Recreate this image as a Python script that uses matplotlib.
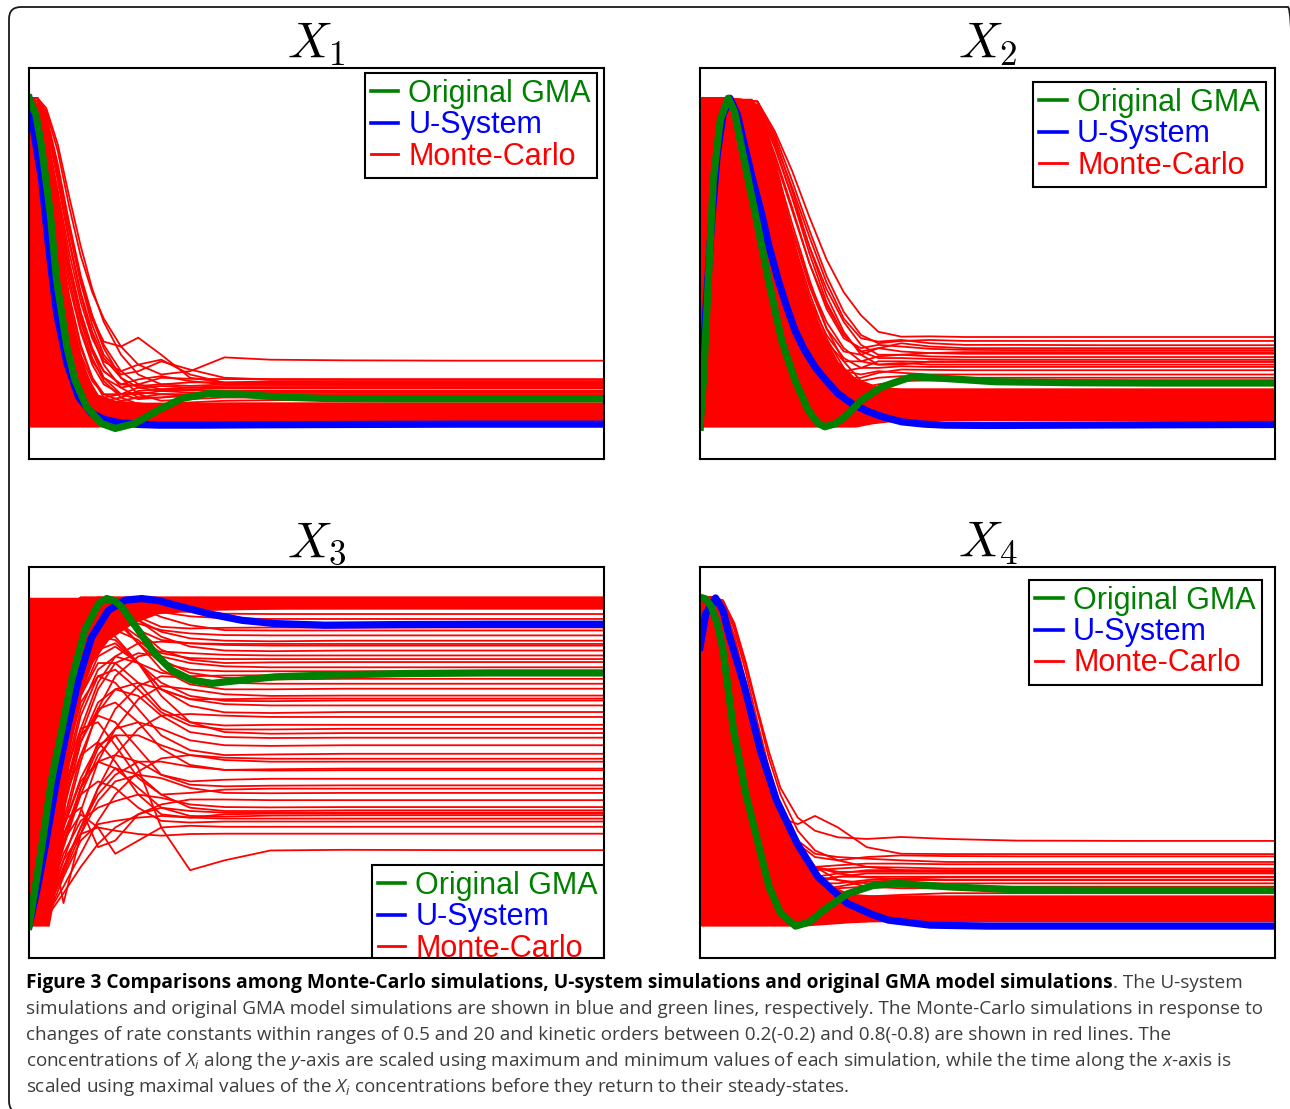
import matplotlib
matplotlib.use('Agg')
import matplotlib.pyplot as plt
from matplotlib.lines import Line2D
from matplotlib.patches import FancyBboxPatch
from matplotlib.transforms import IdentityTransform

plt.rcParams['mathtext.fontset'] = 'custom'
plt.rcParams['mathtext.rm'] = 'Open Sans'
plt.rcParams['mathtext.it'] = 'Open Sans:italic'
plt.rcParams['mathtext.bf'] = 'Open Sans:bold'

# ------------------------------------------------------------------ data
panel_titles = [r'$X_1$', r'$X_2$', r'$X_3$', r'$X_4$']
legend_labels = ['Original GMA', 'U-System', 'Monte-Carlo']

# ---- X1
x1_usys_t = [0, 0.01, 0.022, 0.034, 0.048, 0.066, 0.086, 0.109, 0.13, 0.155, 0.19, 0.225, 0.3, 0.4, 0.55, 0.75, 1.0]
x1_usys_y = [1.0, 0.88, 0.751, 0.548, 0.346, 0.194, 0.092, 0.042, 0.024, 0.014, 0.008, 0.006, 0.006, 0.007, 0.008, 0.009, 0.009]
x1_gma_t = [0, 0.012, 0.022, 0.037, 0.048, 0.066, 0.08, 0.1, 0.126, 0.15, 0.184, 0.225, 0.266, 0.312, 0.37, 0.428, 0.515, 0.65, 0.8, 1.0]
x1_gma_y = [1.0, 0.95, 0.852, 0.65, 0.447, 0.244, 0.143, 0.062, 0.011, -0.004, 0.011, 0.052, 0.087, 0.102, 0.1, 0.092, 0.087, 0.086, 0.086, 0.086]
x1_mass_t = [0, 0.02, 0.035, 0.05, 0.065, 0.08, 0.1, 0.12, 0.15, 0.2, 1.0]
x1_mass_lo = [0, 0, 0, 0, 0, 0, 0, 0, 0.005, 0.015, 0.015]
x1_mass_hi = [1.0, 0.98, 0.86, 0.66, 0.45, 0.29, 0.16, 0.1, 0.082, 0.076, 0.076]
x1_mc_t = [0, 0.015, 0.03, 0.05, 0.07, 0.09, 0.11, 0.13, 0.16, 0.19, 0.23, 0.28, 0.34, 0.42, 0.55, 0.75, 1.0]
x1_mc = [
    [1.0, 1.0, 0.96, 0.84, 0.67, 0.52, 0.41, 0.33, 0.245, 0.19, 0.16, 0.17, 0.212, 0.205, 0.203, 0.202, 0.202],
    [1.0, 1.0, 0.93, 0.78, 0.6, 0.44, 0.33, 0.26, 0.245, 0.272, 0.22, 0.15, 0.135, 0.14, 0.14, 0.14, 0.14],
    [1.0, 0.99, 0.9, 0.72, 0.53, 0.38, 0.27, 0.2, 0.17, 0.19, 0.205, 0.16, 0.135, 0.13, 0.128, 0.127, 0.127],
    [1.0, 0.97, 0.85, 0.64, 0.45, 0.3, 0.2, 0.15, 0.12, 0.13, 0.15, 0.147, 0.146, 0.146, 0.146, 0.146, 0.146],
    [1.0, 0.95, 0.8, 0.56, 0.36, 0.22, 0.14, 0.1, 0.1, 0.12, 0.125, 0.12, 0.12, 0.12, 0.121, 0.121, 0.121],
    [1.0, 0.93, 0.75, 0.5, 0.3, 0.18, 0.11, 0.08, 0.09, 0.11, 0.115, 0.112, 0.111, 0.111, 0.111, 0.111, 0.111],
    [1.0, 0.9, 0.7, 0.45, 0.26, 0.15, 0.1, 0.09, 0.1, 0.105, 0.1, 0.1, 0.1, 0.1, 0.1, 0.1, 0.1],
    [1.0, 0.98, 0.88, 0.68, 0.48, 0.32, 0.21, 0.14, 0.09, 0.07, 0.07, 0.075, 0.08, 0.082, 0.082, 0.082, 0.082],
    [1.0, 0.96, 0.83, 0.6, 0.4, 0.25, 0.15, 0.09, 0.05, 0.045, 0.05, 0.055, 0.06, 0.06, 0.06, 0.06, 0.06],
    [1.0, 0.99, 0.92, 0.75, 0.56, 0.4, 0.28, 0.19, 0.12, 0.09, 0.09, 0.1, 0.108, 0.108, 0.108, 0.108, 0.108],
    [1.0, 0.97, 0.86, 0.66, 0.47, 0.33, 0.23, 0.17, 0.13, 0.125, 0.13, 0.136, 0.136, 0.136, 0.136, 0.136, 0.136],
    [1.0, 0.92, 0.72, 0.48, 0.3, 0.18, 0.11, 0.07, 0.05, 0.05, 0.06, 0.07, 0.072, 0.072, 0.072, 0.072, 0.072],
    [1.0, 0.99, 0.9, 0.7, 0.5, 0.34, 0.23, 0.15, 0.1, 0.085, 0.09, 0.095, 0.095, 0.094, 0.094, 0.094, 0.094],
    [1.0, 0.94, 0.78, 0.55, 0.35, 0.21, 0.12, 0.07, 0.035, 0.03, 0.035, 0.04, 0.045, 0.045, 0.045, 0.045, 0.045],
    [1.0, 1.0, 0.95, 0.8, 0.62, 0.46, 0.34, 0.25, 0.17, 0.13, 0.115, 0.12, 0.125, 0.125, 0.125, 0.125, 0.125],
    [1.0, 0.99, 0.92, 0.76, 0.57, 0.41, 0.29, 0.21, 0.15, 0.12, 0.11, 0.115, 0.118, 0.118, 0.118, 0.118, 0.118],
    [1.0, 1.0, 0.97, 0.86, 0.7, 0.55, 0.42, 0.32, 0.22, 0.16, 0.13, 0.125, 0.13, 0.132, 0.132, 0.132, 0.132],
    [1.0, 1.0, 0.94, 0.79, 0.6, 0.44, 0.31, 0.22, 0.16, 0.17, 0.2, 0.175, 0.15, 0.145, 0.144, 0.144, 0.144],
    [1.0, 0.98, 0.89, 0.7, 0.5, 0.35, 0.24, 0.17, 0.13, 0.145, 0.155, 0.14, 0.13, 0.13, 0.13, 0.13, 0.13],
    [1.0, 0.96, 0.84, 0.62, 0.43, 0.29, 0.19, 0.13, 0.1, 0.1, 0.11, 0.105, 0.104, 0.104, 0.104, 0.104, 0.104],
    [1.0, 0.99, 0.93, 0.78, 0.6, 0.45, 0.33, 0.24, 0.15, 0.1, 0.08, 0.085, 0.09, 0.09, 0.09, 0.09, 0.09],
    [1.0, 0.95, 0.81, 0.58, 0.38, 0.24, 0.15, 0.1, 0.08, 0.09, 0.1, 0.098, 0.097, 0.097, 0.097, 0.097, 0.097],
]

# ---- X2
x2_usys_t = [0, 0.003, 0.01, 0.02, 0.03, 0.04, 0.052, 0.065, 0.078, 0.092, 0.107, 0.12, 0.136, 0.15, 0.165, 0.18, 0.2, 0.22, 0.24, 0.265, 0.293, 0.32, 0.351, 0.39, 0.426, 0.5, 0.65, 0.8, 1.0]
x2_usys_y = [0.0, 0.15, 0.35, 0.62, 0.83, 0.95, 1.0, 0.95, 0.852, 0.75, 0.65, 0.55, 0.447, 0.37, 0.295, 0.24, 0.183, 0.14, 0.102, 0.07, 0.047, 0.03, 0.016, 0.009, 0.006, 0.005, 0.006, 0.007, 0.008]
x2_gma_t = [0, 0.006, 0.0145, 0.023, 0.035, 0.049, 0.06, 0.072, 0.096, 0.119, 0.142, 0.165, 0.188, 0.205, 0.217, 0.235, 0.252, 0.281, 0.316, 0.368, 0.426, 0.513, 0.65, 0.8, 1.0]
x2_gma_y = [0.0, 0.143, 0.447, 0.75, 0.933, 1.0, 0.96, 0.852, 0.65, 0.447, 0.264, 0.143, 0.052, 0.012, 0.001, 0.01, 0.031, 0.082, 0.122, 0.153, 0.148, 0.138, 0.135, 0.134, 0.134]
x2_mass_t = [0, 0.09, 0.11, 0.125, 0.14, 0.153, 0.17, 0.19, 0.21, 0.24, 0.27, 0.3, 0.35, 1.0]
x2_mass_lo = [0, 0, 0, 0, 0, 0, 0, 0, 0, 0, 0, 0.01, 0.02, 0.02]
x2_mass_hi = [1.0, 1.0, 0.95, 0.85, 0.75, 0.65, 0.52, 0.4, 0.3, 0.2, 0.15, 0.125, 0.118, 0.118]
x2_mc_t = [0, 0.05, 0.1, 0.13, 0.16, 0.19, 0.22, 0.25, 0.28, 0.31, 0.35, 0.4, 0.46, 0.55, 0.7, 0.85, 1.0]
x2_mc = [
    [1, 1, 0.99, 0.9, 0.78, 0.64, 0.51, 0.41, 0.34, 0.29, 0.275, 0.276, 0.274, 0.274, 0.274, 0.274, 0.274],
    [1, 1, 0.98, 0.87, 0.73, 0.58, 0.44, 0.33, 0.27, 0.26, 0.265, 0.255, 0.25, 0.25, 0.249, 0.249, 0.249],
    [1, 1, 0.97, 0.83, 0.67, 0.5, 0.36, 0.27, 0.24, 0.25, 0.245, 0.238, 0.235, 0.234, 0.234, 0.234, 0.234],
    [1, 1, 0.95, 0.78, 0.6, 0.43, 0.3, 0.23, 0.22, 0.24, 0.23, 0.225, 0.223, 0.223, 0.223, 0.223, 0.223],
    [1, 1, 0.93, 0.74, 0.55, 0.38, 0.26, 0.2, 0.2, 0.215, 0.22, 0.215, 0.213, 0.213, 0.213, 0.213, 0.213],
    [1, 1, 0.9, 0.7, 0.5, 0.33, 0.22, 0.17, 0.18, 0.2, 0.2, 0.198, 0.198, 0.198, 0.198, 0.198, 0.198],
    [1, 1, 0.88, 0.66, 0.45, 0.29, 0.19, 0.15, 0.15, 0.165, 0.175, 0.174, 0.173, 0.173, 0.173, 0.173, 0.173],
    [1, 1, 0.86, 0.62, 0.4, 0.25, 0.16, 0.12, 0.12, 0.13, 0.14, 0.142, 0.142, 0.142, 0.142, 0.142, 0.142],
    [1, 1, 0.96, 0.8, 0.62, 0.45, 0.3, 0.2, 0.14, 0.12, 0.115, 0.115, 0.115, 0.115, 0.115, 0.115, 0.115],
    [1, 1, 0.92, 0.72, 0.5, 0.33, 0.2, 0.13, 0.1, 0.1, 0.105, 0.11, 0.11, 0.11, 0.11, 0.11, 0.11],
    [1, 1, 0.94, 0.77, 0.58, 0.41, 0.27, 0.18, 0.12, 0.09, 0.085, 0.09, 0.095, 0.095, 0.095, 0.095, 0.095],
    [1, 1, 0.99, 0.88, 0.72, 0.55, 0.4, 0.29, 0.22, 0.19, 0.19, 0.2, 0.2, 0.2, 0.2, 0.2, 0.2],
    [1, 1, 0.97, 0.85, 0.7, 0.55, 0.42, 0.32, 0.25, 0.22, 0.22, 0.225, 0.228, 0.228, 0.228, 0.228, 0.228],
    [1, 1, 0.96, 0.82, 0.66, 0.5, 0.37, 0.28, 0.23, 0.21, 0.21, 0.207, 0.205, 0.205, 0.205, 0.205, 0.205],
    [1, 1, 0.94, 0.78, 0.6, 0.44, 0.32, 0.24, 0.2, 0.19, 0.195, 0.19, 0.19, 0.19, 0.19, 0.19, 0.19],
    [1, 1, 0.91, 0.73, 0.55, 0.39, 0.28, 0.21, 0.18, 0.18, 0.185, 0.183, 0.183, 0.183, 0.183, 0.183, 0.183],
    [1, 1, 0.89, 0.68, 0.48, 0.32, 0.22, 0.17, 0.16, 0.17, 0.165, 0.16, 0.16, 0.16, 0.16, 0.16, 0.16],
    [1, 1, 0.98, 0.86, 0.7, 0.53, 0.38, 0.28, 0.23, 0.24, 0.255, 0.245, 0.24, 0.24, 0.24, 0.24, 0.24],
    [1, 1, 0.99, 0.89, 0.75, 0.6, 0.46, 0.35, 0.28, 0.255, 0.262, 0.265, 0.262, 0.262, 0.262, 0.262, 0.262],
    [1, 1, 0.87, 0.64, 0.43, 0.28, 0.19, 0.15, 0.14, 0.15, 0.155, 0.152, 0.15, 0.15, 0.15, 0.15, 0.15],
]

# ---- X3
x3_usys_t = [0, 0.015, 0.028, 0.048, 0.066, 0.086, 0.109, 0.138, 0.167, 0.196, 0.225, 0.254, 0.312, 0.37, 0.428, 0.515, 0.65, 0.8, 1.0]
x3_usys_y = [0.0, 0.12, 0.241, 0.444, 0.596, 0.748, 0.879, 0.96, 0.991, 0.996, 0.99, 0.976, 0.95, 0.93, 0.92, 0.915, 0.917, 0.918, 0.918]
x3_gma_t = [0, 0.01, 0.022, 0.039, 0.057, 0.074, 0.097, 0.121, 0.135, 0.148, 0.161, 0.19, 0.219, 0.248, 0.283, 0.318, 0.37, 0.428, 0.515, 0.65, 0.8, 1.0]
x3_gma_y = [0.0, 0.11, 0.241, 0.444, 0.596, 0.748, 0.9, 0.981, 0.996, 0.99, 0.971, 0.9, 0.829, 0.778, 0.748, 0.738, 0.748, 0.758, 0.763, 0.768, 0.77, 0.77]
x3_mass_t = [0, 0.035, 0.05, 0.062, 0.072, 0.09, 0.11, 0.138, 0.18, 0.225, 0.31, 0.45, 1.0]
x3_mass_lo = [0, 0, 0.14, 0.34, 0.545, 0.7, 0.8, 0.87, 0.92, 0.95, 0.96, 0.965, 0.968]
x3_mass_hi = [1.0, 1.0, 1.0, 1.0, 1.0, 1.0, 1.0, 1.0, 1.0, 1.0, 1.0, 1.0, 1.0]
x3_mc_t = [0, 0.02, 0.04, 0.06, 0.09, 0.12, 0.15, 0.19, 0.23, 0.28, 0.34, 0.42, 0.55, 0.75, 1.0]
x3_mc = [
    [0, .40, .80, .96, 1, 1, 1, 1, 1, 1, 1, 1, 1, 1, 1],
    [0, .30, .65, .88, .98, 1, .995, .99, .988, .986, .985, .985, .985, .985, .985],
    [0, .25, .55, .80, .95, .99, .995, .985, .975, .968, .965, .965, .965, .965, .965],
    [0, .20, .50, .75, .92, .98, .99, .98, .965, .955, .95, .949, .949, .949, .949],
    [0, .16, .42, .68, .90, .97, .985, .97, .955, .942, .936, .934, .934, .934, .934],
    [0, .15, .40, .65, .88, .97, .99, .97, .94, .915, .90, .899, .899, .899, .899],
    [0, .10, .30, .52, .75, .88, .93, .92, .90, .89, .885, .884, .884, .884, .884],
    [0, .18, .45, .70, .90, .98, .97, .93, .895, .875, .868, .866, .868, .868, .868],
    [0, .08, .22, .40, .60, .74, .82, .86, .865, .86, .855, .853, .853, .853, .853],
    [0, .12, .35, .60, .85, .95, .96, .93, .88, .85, .838, .836, .838, .838, .838],
    [0, .05, .15, .30, .50, .66, .76, .82, .835, .83, .825, .823, .823, .823, .823],
    [0, .22, .52, .78, .94, .99, .96, .90, .84, .81, .80, .802, .803, .803, .803],
    [0, .06, .20, .38, .58, .72, .80, .83, .82, .80, .79, .787, .787, .787, .787],
    [0, .10, .28, .50, .74, .86, .90, .87, .81, .77, .755, .75, .752, .752, .752],
    [0, .04, .12, .25, .42, .56, .66, .73, .76, .755, .74, .737, .737, .737, .737],
    [0, .14, .38, .64, .88, .96, .94, .86, .78, .735, .72, .72, .722, .722, .722],
    [0, .03, .10, .20, .35, .50, .60, .69, .73, .72, .705, .70, .701, .701, .701],
    [0, .08, .25, .46, .70, .82, .85, .80, .74, .70, .685, .684, .686, .686, .686],
    [0, .05, .16, .32, .52, .65, .72, .74, .72, .69, .675, .671, .671, .671, .671],
    [0, .12, .32, .55, .78, .88, .87, .80, .72, .67, .65, .648, .651, .651, .651],
    [0, .03, .08, .17, .30, .42, .52, .60, .64, .645, .64, .636, .636, .636, .636],
    [0, .07, .22, .42, .64, .76, .78, .72, .65, .61, .598, .598, .60, .60, .60],
    [0, .04, .12, .25, .42, .54, .60, .62, .60, .565, .55, .548, .55, .55, .55],
    [0, .10, .28, .48, .68, .76, .74, .66, .58, .535, .52, .522, .524, .524, .524],
    [0, .02, .06, .12, .22, .32, .40, .47, .51, .52, .512, .509, .509, .509, .509],
    [0, .06, .18, .36, .56, .66, .68, .62, .54, .49, .475, .477, .479, .479, .479],
    [0, .03, .09, .18, .30, .40, .46, .50, .50, .485, .475, .473, .474, .474, .474],
    [0, .05, .14, .27, .42, .50, .52, .50, .46, .43, .425, .427, .428, .428, .428],
    [0, .09, .25, .45, .60, .62, .55, .45, .40, .405, .415, .418, .418, .418, .418],
    [0, .04, .12, .22, .32, .36, .38, .40, .39, .37, .362, .361, .362, .362, .362],
    [0, .12, .26, .07, .28, .42, .48, .46, .40, .36, .35, .35, .352, .352, .352],
    [0, .06, .16, .30, .44, .50, .48, .42, .36, .335, .333, .336, .337, .337, .337],
    [0, .02, .06, .15, .26, .31, .32, .33, .335, .33, .327, .327, .327, .327, .327],
    [0, .05, .14, .26, .34, .30, .22, .26, .30, .305, .302, .302, .302, .302, .302],
    [0, .03, .10, .20, .28, .30, .29, .28, .275, .28, .281, .281, .281, .281, .281],
    [0, .05, .15, .30, .45, .55, .58, .48, .30, .17, .20, .23, .232, .231, .231],
    [0, .28, .62, .86, .97, .98, .95, .90, .87, .86, .858, .858, .858, .858, .858],
    [0, .20, .48, .72, .90, .95, .93, .86, .80, .78, .775, .775, .775, .775, .775],
    [0, .16, .40, .64, .84, .90, .88, .80, .72, .69, .69, .692, .692, .692, .692],
    [0, .10, .28, .48, .70, .80, .80, .74, .66, .62, .61, .612, .612, .612, .612],
    [0, .06, .18, .35, .56, .68, .72, .70, .64, .59, .575, .572, .573, .573, .573],
    [0, .04, .12, .24, .40, .52, .58, .58, .55, .52, .505, .50, .50, .50, .50],
    [0, .08, .22, .40, .58, .64, .62, .54, .46, .44, .445, .448, .448, .448, .448],
    [0, .03, .08, .16, .28, .38, .44, .46, .45, .42, .405, .404, .405, .405, .405],
    [0, .05, .15, .28, .40, .44, .42, .36, .32, .315, .318, .318, .318, .318, .318],
    [0, .07, .20, .38, .52, .56, .50, .40, .34, .33, .34, .342, .342, .342, .342],
    [0, .02, .05, .10, .18, .25, .30, .34, .37, .385, .385, .383, .383, .383, .383],
    [0, .12, .30, .50, .72, .84, .86, .80, .70, .62, .59, .585, .587, .587, .587],
    [0, .25, .58, .82, .96, .99, .98, .94, .91, .905, .907, .908, .908, .908, .908],
    [0, .09, .24, .44, .66, .78, .82, .80, .77, .76, .762, .763, .763, .763, .763],
    [0, .14, .36, .60, .82, .92, .93, .88, .83, .815, .812, .812, .812, .812, .812],
    [0, .06, .18, .32, .36, .24, .26, .34, .36, .35, .345, .345, .345, .345, .345],
]

# ---- X4
x4_usys_t = [0, 0.01, 0.027, 0.04, 0.05, 0.076, 0.105, 0.133, 0.169, 0.205, 0.256, 0.3, 0.328, 0.4, 0.5, 0.7, 1.0]
x4_usys_y = [0.848, 0.95, 0.998, 0.96, 0.889, 0.737, 0.534, 0.383, 0.251, 0.15, 0.069, 0.035, 0.018, 0.003, 0.0, 0.0, 0.0]
x4_gma_t = [0, 0.01, 0.02, 0.03, 0.04, 0.058, 0.08, 0.1, 0.12, 0.14, 0.166, 0.19, 0.22, 0.256, 0.3, 0.342, 0.436, 0.544, 0.7, 1.0]
x4_gma_y = [1.0, 0.995, 0.97, 0.92, 0.84, 0.6, 0.4, 0.26, 0.12, 0.04, 0.0, 0.012, 0.055, 0.098, 0.123, 0.13, 0.119, 0.111, 0.109, 0.109]
x4_mass_t = [0, 0.03, 0.05, 0.07, 0.09, 0.11, 0.13, 0.15, 0.18, 0.22, 0.26, 0.3, 1.0]
x4_mass_lo = [0, 0, 0, 0, 0, 0, 0, 0, 0, 0.005, 0.01, 0.013, 0.013]
x4_mass_hi = [1.0, 1.0, 0.88, 0.75, 0.62, 0.49, 0.38, 0.3, 0.2, 0.13, 0.1, 0.095, 0.095]
x4_mc_t = [0, 0.02, 0.04, 0.06, 0.08, 0.1, 0.12, 0.14, 0.17, 0.2, 0.24, 0.29, 0.35, 0.43, 0.55, 0.75, 1.0]
x4_mc = [
    [1, 1, .99, .92, .80, .66, .53, .42, .33, .29, .27, .265, .271, .265, .26, .259, .259],
    [1, 1, .97, .86, .71, .55, .42, .33, .31, .335, .30, .24, .22, .219, .219, .219, .219],
    [1, 1, .98, .88, .74, .59, .45, .34, .26, .22, .21, .205, .2, .195, .195, .195, .195],
    [1, 1, .96, .84, .68, .52, .38, .28, .2, .17, .175, .18, .178, .175, .175, .175, .175],
    [1, 1, .95, .81, .64, .47, .34, .24, .17, .15, .16, .17, .17, .17, .17, .17, .17],
    [1, 1, .93, .78, .6, .43, .3, .2, .14, .13, .15, .16, .16, .16, .16, .16, .16],
    [1, .99, .9, .74, .55, .38, .25, .17, .13, .14, .15, .15, .15, .15, .15, .15, .15],
    [1, 1, .97, .85, .7, .54, .4, .3, .22, .18, .16, .148, .143, .14, .14, .14, .14],
    [1, .99, .92, .76, .58, .41, .28, .19, .13, .11, .12, .135, .14, .14, .14, .14, .14],
    [1, 1, .99, .9, .77, .62, .48, .36, .25, .18, .14, .12, .115, .115, .115, .115, .115],
    [1, 1, .96, .83, .67, .5, .36, .25, .16, .11, .09, .09, .095, .1, .1, .1, .1],
    [1, .98, .88, .7, .5, .33, .2, .12, .07, .06, .07, .08, .085, .085, .085, .085, .085],
    [1, 1, .98, .87, .72, .57, .44, .34, .25, .21, .2, .21, .215, .213, .212, .212, .212],
    [1, 1, .97, .85, .69, .53, .39, .29, .21, .18, .185, .19, .19, .188, .188, .188, .188],
    [1, 1, .99, .91, .79, .65, .51, .4, .29, .23, .2, .18, .17, .165, .165, .165, .165],
    [1, .99, .94, .8, .62, .45, .32, .23, .16, .13, .13, .14, .145, .148, .148, .148, .148],
    [1, 1, .95, .82, .65, .49, .35, .25, .18, .15, .14, .13, .13, .13, .13, .13, .13],
    [1, 1, .98, .88, .73, .57, .43, .32, .23, .18, .165, .165, .165, .165, .165, .165, .165],
    [1, .98, .9, .73, .54, .37, .25, .17, .12, .11, .115, .12, .12, .12, .12, .12, .12],
]

caption_bold = ('Figure 3 Comparisons among Monte-Carlo simulations, U-system simulations '
                'and original GMA model simulations')
caption_first_rest = '. The U-system'
caption_lines = [
    'simulations and original GMA model simulations are shown in blue and green lines, respectively. '
    'The Monte-Carlo simulations in response to',
    'changes of rate constants within ranges of 0.5 and 20 and kinetic orders between 0.2(-0.2) and '
    '0.8(-0.8) are shown in red lines. The',
    r'concentrations of $X_i$ along the $y$-axis are scaled using maximum and minimum values of each '
    r'simulation, while the time along the $x$-axis is',
    r'scaled using maximal values of the $X_i$ concentrations before they return to their steady-states.',
]

# ------------------------------------------------------------------ style / layout
RED, BLUE, GREEN = '#ff0000', '#0000ff', '#008000'
W, H, DPI = 1290, 1109, 100

panels = [
    dict(mass=(x1_mass_t, x1_mass_lo, x1_mass_hi), mc=(x1_mc_t, x1_mc), usys=(x1_usys_t, x1_usys_y),
         gma=(x1_gma_t, x1_gma_y), box=(29, 68, 604, 459), loc='upper right', anchor=(0.988, 0.987)),
    dict(mass=(x2_mass_t, x2_mass_lo, x2_mass_hi), mc=(x2_mc_t, x2_mc), usys=(x2_usys_t, x2_usys_y),
         gma=(x2_gma_t, x2_gma_y), box=(700, 68, 1275, 459), loc='upper right', anchor=(0.984, 0.964)),
    dict(mass=(x3_mass_t, x3_mass_lo, x3_mass_hi), mc=(x3_mc_t, x3_mc), usys=(x3_usys_t, x3_usys_y),
         gma=(x3_gma_t, x3_gma_y), box=(29, 567, 604, 958), loc='lower right', anchor=(1.0, -0.03)),
    dict(mass=(x4_mass_t, x4_mass_lo, x4_mass_hi), mc=(x4_mc_t, x4_mc), usys=(x4_usys_t, x4_usys_y),
         gma=(x4_gma_t, x4_gma_y), box=(700, 567, 1275, 958), loc='upper right', anchor=(0.977, 0.967)),
]

fig = plt.figure(figsize=(W / DPI, H / DPI), dpi=DPI)
fig.patch.set_facecolor('white')

for p, title in zip(panels, panel_titles):
    l, t, r, b = p['box']
    ax = fig.add_axes([l / W, 1 - b / H, (r - l) / W, (b - t) / H])
    mt, mlo, mhi = p['mass']
    ax.fill_between(mt, mlo, mhi, color=RED, lw=0, zorder=1)
    ct, curves = p['mc']
    for c in curves:
        ax.plot(ct, c, color=RED, lw=1.3, zorder=2, solid_joinstyle='round')
    ax.plot(*p['usys'], color=BLUE, lw=5.2, zorder=3, solid_joinstyle='round')
    ax.plot(*p['gma'], color=GREEN, lw=5.2, zorder=4, solid_joinstyle='round')
    ax.set_xlim(0, 1)
    ax.set_ylim(-0.097, 1.092)
    ax.set_xticks([])
    ax.set_yticks([])
    for s in ax.spines.values():
        s.set_linewidth(1.5)
        s.set_color('black')
        s.set_zorder(6)
    ax.set_title(title, fontsize=36, pad=1, math_fontfamily='cm')
    handles = [Line2D([], [], color=GREEN, lw=2.6), Line2D([], [], color=BLUE, lw=2.6),
               Line2D([], [], color=RED, lw=2.0)]
    leg = ax.legend(handles, legend_labels, loc=p['loc'], bbox_to_anchor=p['anchor'],
                    borderaxespad=0, prop={'family': 'Liberation Sans', 'size': 22},
                    labelcolor='linecolor', fancybox=False, framealpha=1, edgecolor='black',
                    handlelength=0.9, handletextpad=0.33, labelspacing=0.04, borderpad=0.2)
    leg.get_frame().set_linewidth(1.5)
    leg.set_zorder(5)
    # the legend is cut off by the axes box, as in the original figure
    for art in [leg.get_frame()] + list(leg.get_texts()) + list(leg.legend_handles):
        art.set_clip_box(ax.bbox)
        art.set_clip_on(True)

# outer rounded frame (pixel coordinates, right and bottom sides run off the image)
frame = FancyBboxPatch((9, -4), 1300 - 9, 1102 + 4, boxstyle='round,pad=0,rounding_size=12',
                       transform=IdentityTransform(), fill=False, ec='#1a1a1a', lw=1.3)
fig.add_artist(frame)

# caption
CAP_FONT = 'Open Sans'
GRAY = '#3d3d3d'
x0 = 26
base_px = [988, 1014, 1040, 1066, 1092]
fig.canvas.draw()
rend = fig.canvas.get_renderer()

probe = fig.text(x0 / W, 1 - base_px[1] / H, caption_lines[0], fontsize=12, family=CAP_FONT,
                 color=GRAY, va='baseline')
w = probe.get_window_extent(renderer=rend).width
fs = 12 * (1251 - x0) / w
probe.set_fontsize(fs)
for txt, yp in zip(caption_lines[1:], base_px[2:]):
    fig.text(x0 / W, 1 - yp / H, txt, fontsize=fs, family=CAP_FONT, color=GRAY, va='baseline')

bold = fig.text(x0 / W, 1 - base_px[0] / H, caption_bold, fontsize=12, family=CAP_FONT,
                weight='bold', color='black', va='baseline')
wb = bold.get_window_extent(renderer=rend).width
bold.set_fontsize(12 * (1109 - x0) / wb)
wb = bold.get_window_extent(renderer=rend).width
fig.text((x0 + wb) / W, 1 - base_px[0] / H, caption_first_rest, fontsize=fs, family=CAP_FONT,
         color=GRAY, va='baseline')

fig.savefig('out.png', dpi=DPI)
